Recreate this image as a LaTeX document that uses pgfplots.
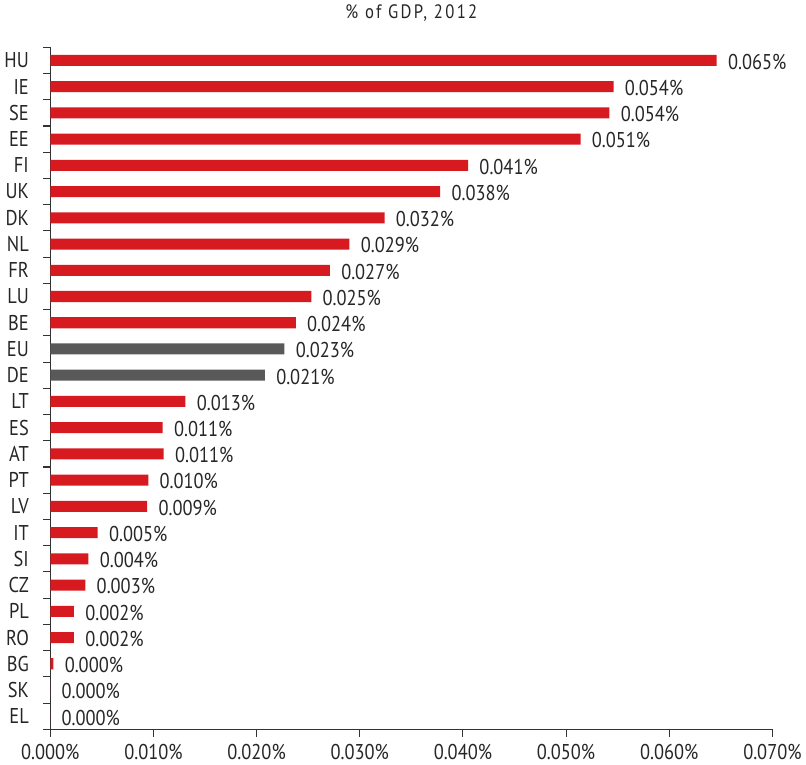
\documentclass[border=0pt]{standalone}
\usepackage{pgfplots}
\pgfplotsset{compat=1.18}
\usepackage{pgfplotstable}
\usepackage{fontspec}
\setmainfont{PT Sans}[FakeStretch=0.86]
\newfontfamily\titlefont{PT Sans}[FakeStretch=0.86, LetterSpace=12]
\definecolor{barred}{HTML}{D71920}
\definecolor{bargrey}{HTML}{595959}
\definecolor{axisgrey}{HTML}{333333}

\pgfplotstableread{
idx val lab
0 0.0646 0.065\%
1 0.0546 0.054\%
2 0.0542 0.054\%
3 0.0514 0.051\%
4 0.0405 0.041\%
5 0.0378 0.038\%
6 0.0324 0.032\%
7 0.0290 0.029\%
8 0.0271 0.027\%
9 0.0253 0.025\%
10 0.0238 0.024\%
13 0.0131 0.013\%
14 0.0109 0.011\%
15 0.0110 0.011\%
16 0.0095 0.010\%
17 0.0094 0.009\%
18 0.0046 0.005\%
19 0.0037 0.004\%
20 0.0034 0.003\%
21 0.0023 0.002\%
22 0.0023 0.002\%
23 0.0003 0.000\%
24 0.0000 0.000\%
25 0.0000 0.000\%
}\redtab

\pgfplotstableread{
idx val lab
11 0.0227 0.023\%
12 0.0208 0.021\%
}\greytab

\begin{document}
\begin{tikzpicture}
\begin{axis}[
  scale only axis,
  width=540pt, height=510pt,
  xbar, bar width=8.25pt, bar shift=0pt,
  xmin=0, xmax=0.07,
  ymin=-0.5, ymax=25.5,
  y dir=reverse,
  scaled x ticks=false,
  axis x line*=bottom, axis y line*=left,
  axis line style={axisgrey, line width=0.8pt},
  xtick={0,0.01,0.02,0.03,0.04,0.05,0.06,0.07},
  xticklabels={0.000\%,0.010\%,0.020\%,0.030\%,0.040\%,0.050\%,0.060\%,0.070\%},
  ytick={0,...,25},
  yticklabels={HU,IE,SE,EE,FI,UK,DK,NL,FR,LU,BE,EU,DE,LT,ES,AT,PT,LV,IT,SI,CZ,PL,RO,BG,SK,EL},
  minor ytick={-0.5,0.5,...,25.5},
  major y tick style={draw=none},
  minor y tick style={axisgrey, line width=0.8pt},
  major x tick style={axisgrey, line width=0.8pt},
  tick align=outside,
  major tick length=5.5pt, minor tick length=5.5pt,
  ticklabel style={font=\fontsize{16}{18}\selectfont, text=black!85},
  yticklabel style={xshift=-7pt},
  xticklabel style={yshift=-2pt},
  nodes near coords,
  point meta=explicit symbolic,
  nodes near coords style={font=\fontsize{16}{18}\selectfont, text=black!85, anchor=west, xshift=5pt, yshift=-1pt},
  title={\titlefont\% of GDP, 2012},
  title style={font=\fontsize{14.5}{16}\selectfont, text=black!85, yshift=10pt},
  clip=false,
]
\addplot[draw=none, fill=barred] table[x=val, y=idx, meta=lab] {\redtab};
\addplot[draw=none, fill=bargrey] table[x=val, y=idx, meta=lab] {\greytab};
\end{axis}
\end{tikzpicture}
\end{document}
